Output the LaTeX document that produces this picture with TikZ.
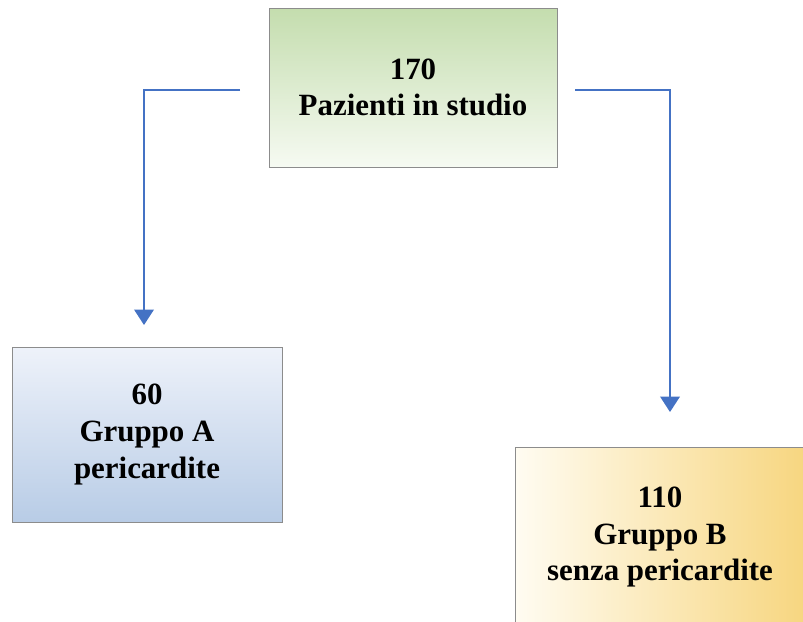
\documentclass[tikz,border=0pt]{standalone}
\usepackage{fontspec}
\setmainfont{Liberation Serif}
\usetikzlibrary{arrows.meta}
\definecolor{boxgreen}{RGB}{196,221,174}
\definecolor{boxgreenlight}{RGB}{246,250,242}
\definecolor{boxblue}{RGB}{184,204,230}
\definecolor{boxbluelight}{RGB}{238,242,250}
\definecolor{boxgold}{RGB}{247,214,128}
\definecolor{boxgoldlight}{RGB}{255,252,242}
\definecolor{arrowblue}{RGB}{68,114,196}

\begin{document}
\begin{tikzpicture}
\tikzset{box/.style = {shape=rectangle,draw=black!45,line width=0.6pt,align=center,
  font=\fontsize{22}{26}\selectfont\bfseries}}
\tikzset{edge/.style = {-{Triangle[width=14pt,length=11pt]},draw=arrowblue,line width=1.1pt}}
\useasboundingbox (0,0) rectangle (20.075,-15.525);
% boxes
\node[box,minimum width=7.2cm,minimum height=3.975cm,top color=boxgreen,bottom color=boxgreenlight]
  (tot) at (10.325,-2.1875) {170\\Pazienti in studio};
\node[box,minimum width=6.75cm,minimum height=4.375cm,top color=boxbluelight,bottom color=boxblue]
  (ga) at (3.675,-10.8625) {60\\Gruppo A\\pericardite};
\node[box,minimum width=7.25cm,minimum height=4.5cm,left color=boxgoldlight,right color=boxgold]
  (gb) at (16.5,-13.425) {110\\Gruppo B\\senza pericardite};
% arrow ends
\coordinate (sa) at (6.0,-2.25);
\coordinate (ea) at (3.6,-8.125);
\coordinate (sb) at (14.375,-2.25);
\coordinate (eb) at (16.75,-10.3);
%edges
\draw[edge] (sa) -| (ea);
\draw[edge] (sb) -| (eb);
\end{tikzpicture}
\end{document}
